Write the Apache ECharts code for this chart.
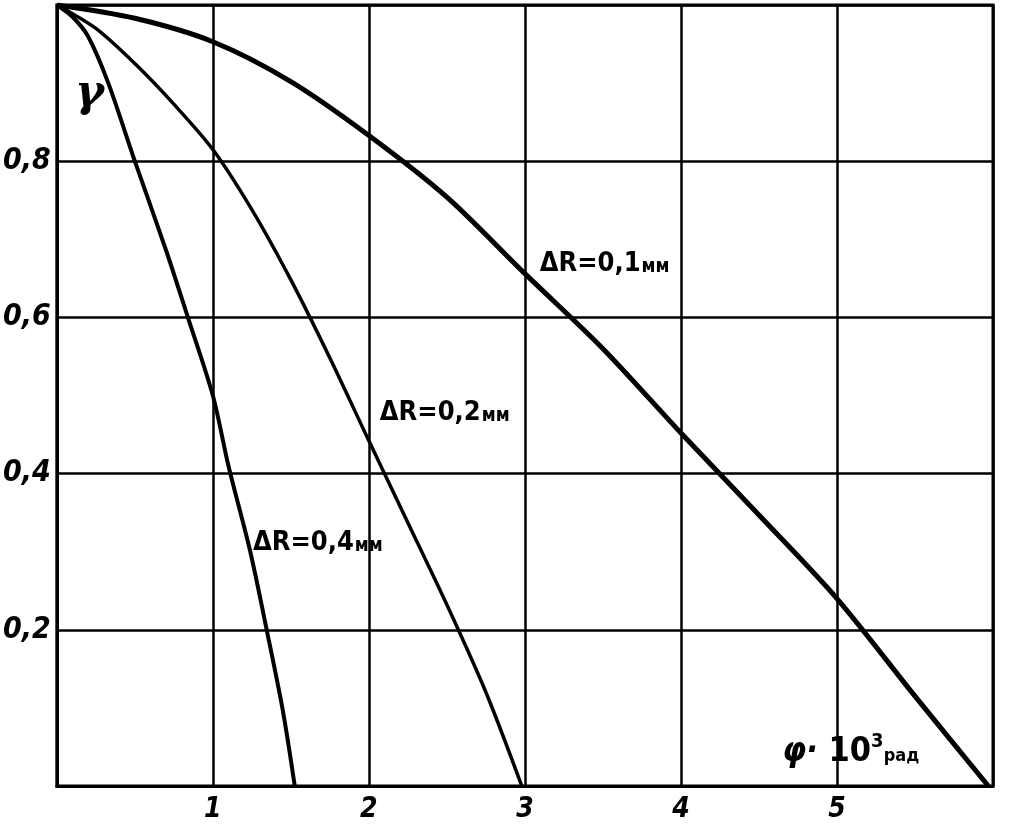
<!DOCTYPE html>
<html>
<head>
<meta charset="utf-8">
<script src="https://cdn.jsdelivr.net/npm/echarts@6/dist/echarts.min.js"></script>
<style>
html,body{margin:0;padding:0;background:#fff;}
#chart{width:1009px;height:826px;}
</style>
</head>
<body>
<div id="chart"></div>
<script>
// ---- data ----
const phi01 = [0, 0.5, 1, 1.5, 2, 2.5, 3, 3.5, 4, 4.5, 5, 5.5, 5.97];
const gam01 = [1, 0.983, 0.953, 0.902, 0.833, 0.754, 0.656, 0.56, 0.452, 0.347, 0.24, 0.115, 0];

const phi02 = [0, 0.25, 0.5, 0.75, 1, 1.25, 1.5, 1.75, 2, 2.25, 2.5, 2.75, 2.98];
const gam02 = [1, 0.97, 0.925, 0.873, 0.815, 0.738, 0.648, 0.548, 0.442, 0.337, 0.232, 0.12, 0];

const phi04 = [0, 0.1, 0.2, 0.33, 0.5, 0.7, 0.84, 1, 1.1, 1.24, 1.345, 1.45, 1.525];
const gam04 = [1, 0.985, 0.96, 0.9, 0.8, 0.686, 0.6, 0.5, 0.41, 0.3, 0.2, 0.095, 0];

const xTickLabels = ['1', '2', '3', '4', '5'];
const yTickLabels = ['0,2', '0,4', '0,6', '0,8'];

const seriesNames = ['ΔR=0,1мм', 'ΔR=0,2мм', 'ΔR=0,4мм'];

const zip = (xs, ys) => xs.map((x, i) => [x, ys[i]]);

const FONT = '"Liberation Sans Narrow","DejaVu Sans Condensed","Liberation Sans",sans-serif';

const chart = echarts.init(document.getElementById('chart'), null, {renderer: 'canvas'});

const lineSeries = (name, data, width) => ({
  name: name,
  type: 'line',
  data: data,
  smooth: 0.3,
  symbol: 'none',
  lineStyle: {color: '#000', width: width},
  z: 5
});

chart.setOption({
  animation: false,
  backgroundColor: '#fff',
  grid: {
    left: 53, right: 16, top: 5, bottom: 40,
    show: true, borderColor: '#000', borderWidth: 3, backgroundColor: 'transparent'
  },
  xAxis: {
    type: 'value', min: 0, max: 6, interval: 1,
    axisLine: {show: true, lineStyle: {color: '#000', width: 3}},
    axisTick: {show: false},
    splitLine: {show: true, lineStyle: {color: '#000', width: 2.5}},
    axisLabel: {
      margin: 10,
      color: '#000', fontSize: 28, fontFamily: FONT, fontStyle: 'italic', fontWeight: 'bold',
      formatter: v => { const i = Math.round(v) - 1; return (Math.abs(v - Math.round(v)) < 1e-6 && i >= 0 && i < xTickLabels.length) ? xTickLabels[i] : ''; }
    }
  },
  yAxis: {
    type: 'value', min: 0, max: 1, interval: 0.2,
    axisLine: {show: true, lineStyle: {color: '#000', width: 3}},
    axisTick: {show: false},
    splitLine: {show: true, lineStyle: {color: '#000', width: 2.5}},
    axisLabel: {
      margin: 6,
      color: '#000', fontSize: 30, fontFamily: FONT, fontStyle: 'italic', fontWeight: 'bold',
      formatter: v => { const i = Math.round(v * 5) - 1; return (i >= 0 && i < yTickLabels.length) ? yTickLabels[i] : ''; }
    }
  },
  series: [
    lineSeries(seriesNames[0], zip(phi01, gam01), 5),
    lineSeries(seriesNames[1], zip(phi02, gam02), 3.5),
    lineSeries(seriesNames[2], zip(phi04, gam04), 4)
  ]
});

// annotations placed in data coordinates
const px = (x, y) => chart.convertToPixel({gridIndex: 0}, [x, y]);
const txt = (pos, rich, text, align) => ({
  type: 'text', x: pos[0], y: pos[1], z: 10,
  style: {text: text, rich: rich, align: align || 'left', verticalAlign: 'middle', fill: '#000', font: 'bold 24px ' + FONT}
});
const drRich = {
  a: {fontSize: 27, fontFamily: FONT, fontWeight: 'bold', fill: '#000'},
  b: {fontSize: 19, fontFamily: FONT, fontWeight: 'bold', fill: '#000', padding: [6, 0, 0, 1]}
};
const drText = s => '{a|' + s.replace('мм', '') + '}{b|мм}';

chart.setOption({
  graphic: [
    txt(px(0.21, 0.885), {g: {fontSize: 44, fontFamily: '"DejaVu Serif",serif', fontStyle: 'italic', fontWeight: 'bold', fill: '#000'}}, '{g|γ}', 'center'),
    txt(px(3.095, 0.668), drRich, drText(seriesNames[0])),
    txt(px(2.07, 0.478), drRich, drText(seriesNames[1])),
    txt(px(1.257, 0.311), drRich, drText(seriesNames[2])),
    txt(px(4.65, 0.043), {
      p: {fontSize: 34, fontFamily: FONT, fontStyle: 'italic', fontWeight: 'bold', fill: '#000'},
      t: {fontSize: 34, fontFamily: FONT, fontWeight: 'bold', fill: '#000'},
      s: {fontSize: 20, fontFamily: FONT, fontWeight: 'bold', fill: '#000', padding: [0, 0, 22, 0]},
      r: {fontSize: 18, fontFamily: FONT, fontWeight: 'bold', fill: '#000', padding: [8, 0, 0, 0]}
    }, '{p|φ· }{t|10}{s|3}{r|рад}')
  ]
});
</script>
</body>
</html>
